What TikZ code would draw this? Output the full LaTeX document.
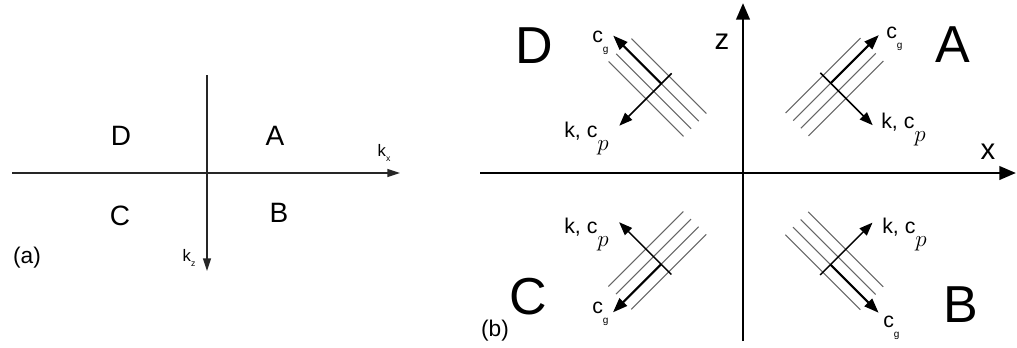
\documentclass[tikz,border=0pt]{standalone}
\usepackage{fontspec}
\setmainfont{Liberation Sans}
\usetikzlibrary{arrows.meta,calc}
\tikzset{
  axisa/.style={line width=1.1pt, draw=black!85, -{Triangle[length=9.5pt,width=6pt]}},
  axisb/.style={line width=2.2pt, -{Triangle[length=12.5pt,width=10pt]}},
  wavefront/.style={line width=0.8pt, draw=black!60},
  cgarrow/.style={line width=1.5pt, -{Triangle[length=11pt,width=8pt]}},
  karrow/.style={line width=1.1pt, -{Triangle[length=10pt,width=7.5pt]}},
  quada/.style={font=\fontsize{21}{21}\selectfont, inner sep=0pt},
  quadb/.style={font=\fontsize{39}{39}\selectfont, inner sep=0pt},
  axlbl/.style={font=\fontsize{12.5}{12.5}\selectfont, inner sep=0pt},
  panlbl/.style={font=\fontsize{17}{17}\selectfont, inner sep=0pt},
  axlblb/.style={font=\fontsize{22}{22}\selectfont, inner sep=0pt},
  lbl/.style={font=\fontsize{16}{16}\selectfont, inner sep=0pt, anchor=base west},
}
\newcommand{\cgtext}{c\raisebox{-7.5pt}{\fontsize{7.5}{7.5}\selectfont g}}
\newcommand{\kcptext}{k, c\raisebox{-10pt}{\fontsize{17}{17}\selectfont$p$}}
\newcommand{\kidx}[1]{k\raisebox{-4pt}{\fontsize{6.5}{6.5}\selectfont #1}}
\newcommand{\packet}[4]{%
  \coordinate (#1) at #2;
  \foreach \o in {-1.5,-0.5,0.5,1.5}{
    \draw[wavefront] ($(#1)+{\o*10.8}*#4+{-53}*#3$) -- ($(#1)+{\o*10.8}*#4+{53}*#3$);
  }
  \coordinate (#1-cgs) at ($(#1)+{-5.4}*#4$);
  \coordinate (#1-cge) at ($(#1)+{-5.4}*#4+{68}*#3$);
  \coordinate (#1-ks) at ($(#1)+{-20}*#4$);
  \coordinate (#1-ke) at ($(#1)+{54}*#4$);
  \draw[cgarrow] (#1-cgs) -- (#1-cge);
  \draw[karrow] (#1-ks) -- (#1-ke);
}
\begin{document}
\begin{tikzpicture}[x=0.75pt,y=-0.75pt]
\useasboundingbox (0,0) rectangle (1017,347);
% ---------- panel (a) ----------
\coordinate (ha0) at (12,173);
\coordinate (ha1) at (400,173);
\coordinate (va0) at (207,75);
\coordinate (va1) at (207,271);
\draw[axisa] (ha0) -- (ha1);
\draw[axisa] (va0) -- (va1);
\node[quada] (aD) at (121,136) {D};
\node[quada] (aA) at (275,136) {A};
\node[quada] (aC) at (120,216) {C};
\node[quada] (aB) at (279,213) {B};
\node[axlbl] (kx) at (384,153) {\kidx{x}};
\node[axlbl] (kz) at (189,258) {\kidx{z}};
\node[panlbl] (pa) at (27,258) {(a)};
% ---------- panel (b) ----------
\coordinate (hb0) at (480,173);
\coordinate (hb1) at (1016,173);
\coordinate (vb0) at (743,341);
\coordinate (vb1) at (743,3);
\draw[axisb] (hb0) -- (hb1);
\draw[axisb] (vb0) -- (vb1);
\node[axlblb] (zl) at (722,42) {z};
\node[axlblb] (xl) at (988,152) {x};
\node[quadb] (bD) at (534,46) {D};
\node[quadb] (bA) at (952.5,45) {A};
\node[quadb] (bC) at (528.5,296.5) {C};
\node[quadb] (bB) at (961,305) {B};
\node[panlbl] (pb) at (495,331) {(b)};
% wave packets
\packet{pA}{(834.5,87)}{(0.7071,-0.7071)}{(0.7071,0.7071)}
\packet{pD}{(657.5,87.5)}{(-0.7071,-0.7071)}{(-0.7071,0.7071)}
\packet{pC}{(657.3,260.4)}{(-0.7071,0.7071)}{(-0.7071,-0.7071)}
\packet{pB}{(834.3,260.8)}{(0.7071,0.7071)}{(0.7071,-0.7071)}
% labels
\node[lbl] (lAg) at (886,38) {\cgtext};
\node[lbl] (lAk) at (881,128) {\kcptext};
\node[lbl] (lDg) at (592,42) {\cgtext};
\node[lbl] (lDk) at (564,137) {\kcptext};
\node[lbl] (lCk) at (564,233) {\kcptext};
\node[lbl] (lCg) at (592,313) {\cgtext};
\node[lbl] (lBk) at (882,233) {\kcptext};
\node[lbl] (lBg) at (883,327) {\cgtext};
\end{tikzpicture}
\end{document}
